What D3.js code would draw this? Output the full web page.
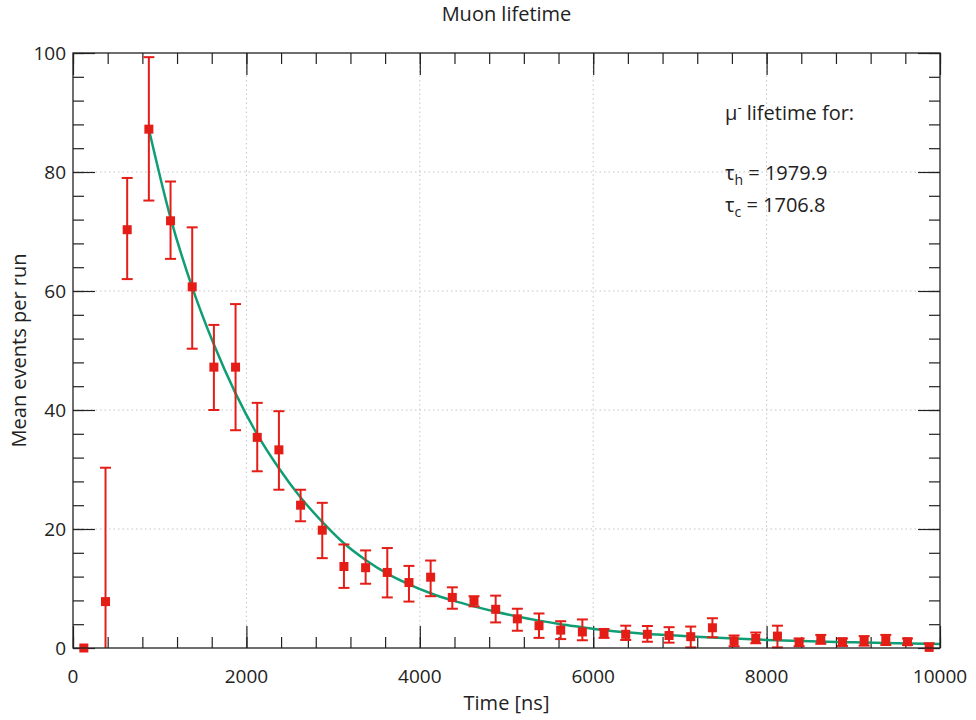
<!DOCTYPE html>
<html>
<head>
<meta charset="utf-8">
<script src="https://cdnjs.cloudflare.com/ajax/libs/d3/7.8.5/d3.min.js"></script>
<style>
  body { margin: 0; background: #fff; }
  text { font-family: "Open Sans", "Noto Sans", sans-serif; fill: #222; }
</style>
</head>
<body>
<div id="chart"></div>
<script>
// bin centres (ns) and mean events per run
var binTime = [125, 375, 625, 875, 1125, 1375, 1625, 1875, 2125, 2375,
  2625, 2875, 3125, 3375, 3625, 3875, 4125, 4375, 4625, 4875,
  5125, 5375, 5625, 5875, 6125, 6375, 6625, 6875, 7125, 7375,
  7625, 7875, 8125, 8375, 8625, 8875, 9125, 9375, 9625, 9875];
var meanEvents = [0, 7.8, 70.3, 87.2, 71.8, 60.7, 47.2, 47.2, 35.4, 33.3,
  24.0, 19.8, 13.7, 13.5, 12.7, 11.0, 11.9, 8.5, 7.9, 6.5,
  4.9, 3.75, 3.0, 2.7, 2.5, 2.3, 2.3, 2.1, 1.9, 3.4,
  1.2, 1.6, 2.0, 0.95, 1.45, 1.05, 1.2, 1.35, 1.05, 0.1];
var errLow = [0, 0, 62.0, 75.2, 65.4, 50.3, 40.0, 36.6, 29.7, 26.6,
  21.3, 15.1, 10.1, 10.8, 8.5, 7.8, 8.7, 6.6, 7.0, 4.3,
  2.9, 1.7, 1.5, 1.3, 1.7, 1.35, 1.05, 0.9, 0.1, 1.8,
  0.3, 0.8, 0.1, 0.3, 0.7, 0.35, 0.4, 0.5, 0.5, 0];
var errHigh = [0, 30.3, 79.0, 99.3, 78.4, 70.7, 54.3, 57.8, 41.2, 39.8,
  26.6, 24.4, 17.4, 16.4, 16.8, 13.8, 14.7, 10.2, 8.7, 8.8,
  6.6, 5.8, 4.5, 4.8, 3.2, 3.75, 3.7, 3.5, 3.6, 5.0,
  2.1, 2.6, 3.75, 1.6, 2.2, 1.6, 2.0, 2.2, 1.6, 0.8];

// fitted decay curve, sampled off the plot
var fitTime = [875, 1125, 1375, 1625, 1875, 2125, 2375, 2625, 2875, 3125,
  3375, 3625, 3875, 4125, 4375, 4625, 4875, 5125, 5375, 5625,
  5875, 6125, 6375, 6625, 6875, 7125, 7500, 8000, 8500, 9000, 9500, 10000];
var fitValue = [87.2, 72.3, 60.6, 51.0, 42.8, 35.9, 30.2, 25.3, 21.2, 17.6,
  14.8, 12.5, 10.7, 9.2, 8.0, 7.0, 6.1, 5.3, 4.6, 4.0,
  3.5, 3.0, 2.65, 2.35, 2.15, 1.95, 1.7, 1.35, 1.12, 0.95, 0.8, 0.67];

var xTicks = [0, 2000, 4000, 6000, 8000, 10000];
var yTicks = [0, 20, 40, 60, 80, 100];

var svgWidth = 976;
var svgHeight = 720;
var margin = { top: 53, right: 36, bottom: 72, left: 73 };
var width = svgWidth - margin.left - margin.right;
var height = svgHeight - margin.top - margin.bottom;

var red = "#e41d17";
var green = "#0f9e74";

var svg = d3.select("#chart")
  .append("svg")
  .attr("width", svgWidth)
  .attr("height", svgHeight);

var chartGroup = svg.append("g")
  .attr("transform", `translate(${margin.left}, ${margin.top})`);

var x = d3.scaleLinear().domain([0, 10000]).range([0, width]);
var y = d3.scaleLinear().domain([0, 100]).range([height, 0]);

// dotted grid at the major ticks
chartGroup.append("g")
  .selectAll("line")
  .data(xTicks.slice(1, -1))
  .enter()
  .append("line")
  .attr("x1", d => x(d)).attr("x2", d => x(d))
  .attr("y1", 0).attr("y2", height)
  .attr("stroke", "#c4c4c4")
  .attr("stroke-dasharray", "1.5,3");

chartGroup.append("g")
  .selectAll("line")
  .data(yTicks.slice(1, -1))
  .enter()
  .append("line")
  .attr("x1", 0).attr("x2", width)
  .attr("y1", d => y(d)).attr("y2", d => y(d))
  .attr("stroke", "#c4c4c4")
  .attr("stroke-dasharray", "1.5,3");

// inward ticks on all four sides, 4 minor ticks between majors
var xMinor = d3.range(0, 10001, 400);
var yMinor = d3.range(0, 101, 4);

function addAxis(axis, transform) {
  var g = chartGroup.append("g").attr("transform", transform).call(axis);
  g.select(".domain").remove();
  g.selectAll("line").attr("stroke", "#222").attr("stroke-width", 1.2);
  return g;
}

addAxis(d3.axisBottom(x).tickValues(xMinor).tickSize(-11).tickFormat(""), `translate(0, ${height})`);
addAxis(d3.axisBottom(x).tickValues(xTicks).tickSize(-22).tickFormat(""), `translate(0, ${height})`);
addAxis(d3.axisTop(x).tickValues(xMinor).tickSize(-11).tickFormat(""), "translate(0, 0)");
addAxis(d3.axisTop(x).tickValues(xTicks).tickSize(-22).tickFormat(""), "translate(0, 0)");
addAxis(d3.axisLeft(y).tickValues(yMinor).tickSize(-11).tickFormat(""), "translate(0, 0)");
addAxis(d3.axisLeft(y).tickValues(yTicks).tickSize(-22).tickFormat(""), "translate(0, 0)");
addAxis(d3.axisRight(y).tickValues(yMinor).tickSize(-11).tickFormat(""), `translate(${width}, 0)`);
addAxis(d3.axisRight(y).tickValues(yTicks).tickSize(-22).tickFormat(""), `translate(${width}, 0)`);

// tick labels
chartGroup.append("g")
  .selectAll("text")
  .data(xTicks)
  .enter()
  .append("text")
  .attr("x", d => x(d))
  .attr("y", height + 35)
  .attr("text-anchor", "middle")
  .attr("font-size", "19px")
  .text(d => d);

chartGroup.append("g")
  .selectAll("text")
  .data(yTicks)
  .enter()
  .append("text")
  .attr("x", -7)
  .attr("y", d => y(d))
  .attr("dy", "0.35em")
  .attr("text-anchor", "end")
  .attr("font-size", "19px")
  .text(d => d);

// fit curve
var line = d3.line()
  .x((d, i) => x(fitTime[i]))
  .y(d => y(d))
  .curve(d3.curveMonotoneX);

chartGroup.append("path")
  .datum(fitValue)
  .attr("d", line)
  .attr("fill", "none")
  .attr("stroke", green)
  .attr("stroke-width", 2.5);

// error bars
var points = binTime.map((t, i) => ({ t: t, v: meanEvents[i], lo: errLow[i], hi: errHigh[i] }));
var bars = chartGroup.append("g")
  .selectAll("g")
  .data(points.filter(d => d.hi > d.lo))
  .enter()
  .append("g")
  .attr("stroke", red)
  .attr("stroke-width", 2);

bars.append("line")
  .attr("x1", d => x(d.t)).attr("x2", d => x(d.t))
  .attr("y1", d => y(d.lo)).attr("y2", d => y(d.hi));
bars.append("line")
  .attr("x1", d => x(d.t) - 5.5).attr("x2", d => x(d.t) + 5.5)
  .attr("y1", d => y(d.hi)).attr("y2", d => y(d.hi));
bars.append("line")
  .filter(d => d.lo > 0)
  .attr("x1", d => x(d.t) - 5.5).attr("x2", d => x(d.t) + 5.5)
  .attr("y1", d => y(d.lo)).attr("y2", d => y(d.lo));

// square markers
chartGroup.append("g")
  .selectAll("rect")
  .data(points)
  .enter()
  .append("rect")
  .attr("x", d => x(d.t) - 4.5)
  .attr("y", d => y(d.v) - 4.5)
  .attr("width", 9)
  .attr("height", 9)
  .attr("fill", red);

// frame
chartGroup.append("rect")
  .attr("width", width)
  .attr("height", height)
  .attr("fill", "none")
  .attr("stroke", "#222")
  .attr("stroke-width", 1.3);

// titles
svg.append("text")
  .attr("x", margin.left + width / 2)
  .attr("y", 21)
  .attr("text-anchor", "middle")
  .attr("font-size", "20px")
  .text("Muon lifetime");

svg.append("text")
  .attr("x", margin.left + width / 2)
  .attr("y", 710)
  .attr("text-anchor", "middle")
  .attr("font-size", "20px")
  .text("Time [ns]");

svg.append("text")
  .attr("transform", "rotate(-90)")
  .attr("x", -(margin.top + height / 2))
  .attr("y", 26)
  .attr("text-anchor", "middle")
  .attr("font-size", "20px")
  .text("Mean events per run");

// lifetime annotation
var note = chartGroup.append("g")
  .attr("font-size", "20px");

var t1 = note.append("text").attr("x", 652).attr("y", 67);
t1.append("tspan").text("μ");
t1.append("tspan").attr("font-size", "13px").attr("dy", -8).text("-");
t1.append("tspan").attr("dy", 8).text(" lifetime for:");

var t2 = note.append("text").attr("x", 652).attr("y", 127);
t2.append("tspan").text("τ");
t2.append("tspan").attr("font-size", "14px").attr("dy", 5).text("h");
t2.append("tspan").attr("dy", -5).text(" = 1979.9");

var t3 = note.append("text").attr("x", 652).attr("y", 159);
t3.append("tspan").text("τ");
t3.append("tspan").attr("font-size", "14px").attr("dy", 5).text("c");
t3.append("tspan").attr("dy", -5).text(" = 1706.8");
</script>
</body>
</html>
